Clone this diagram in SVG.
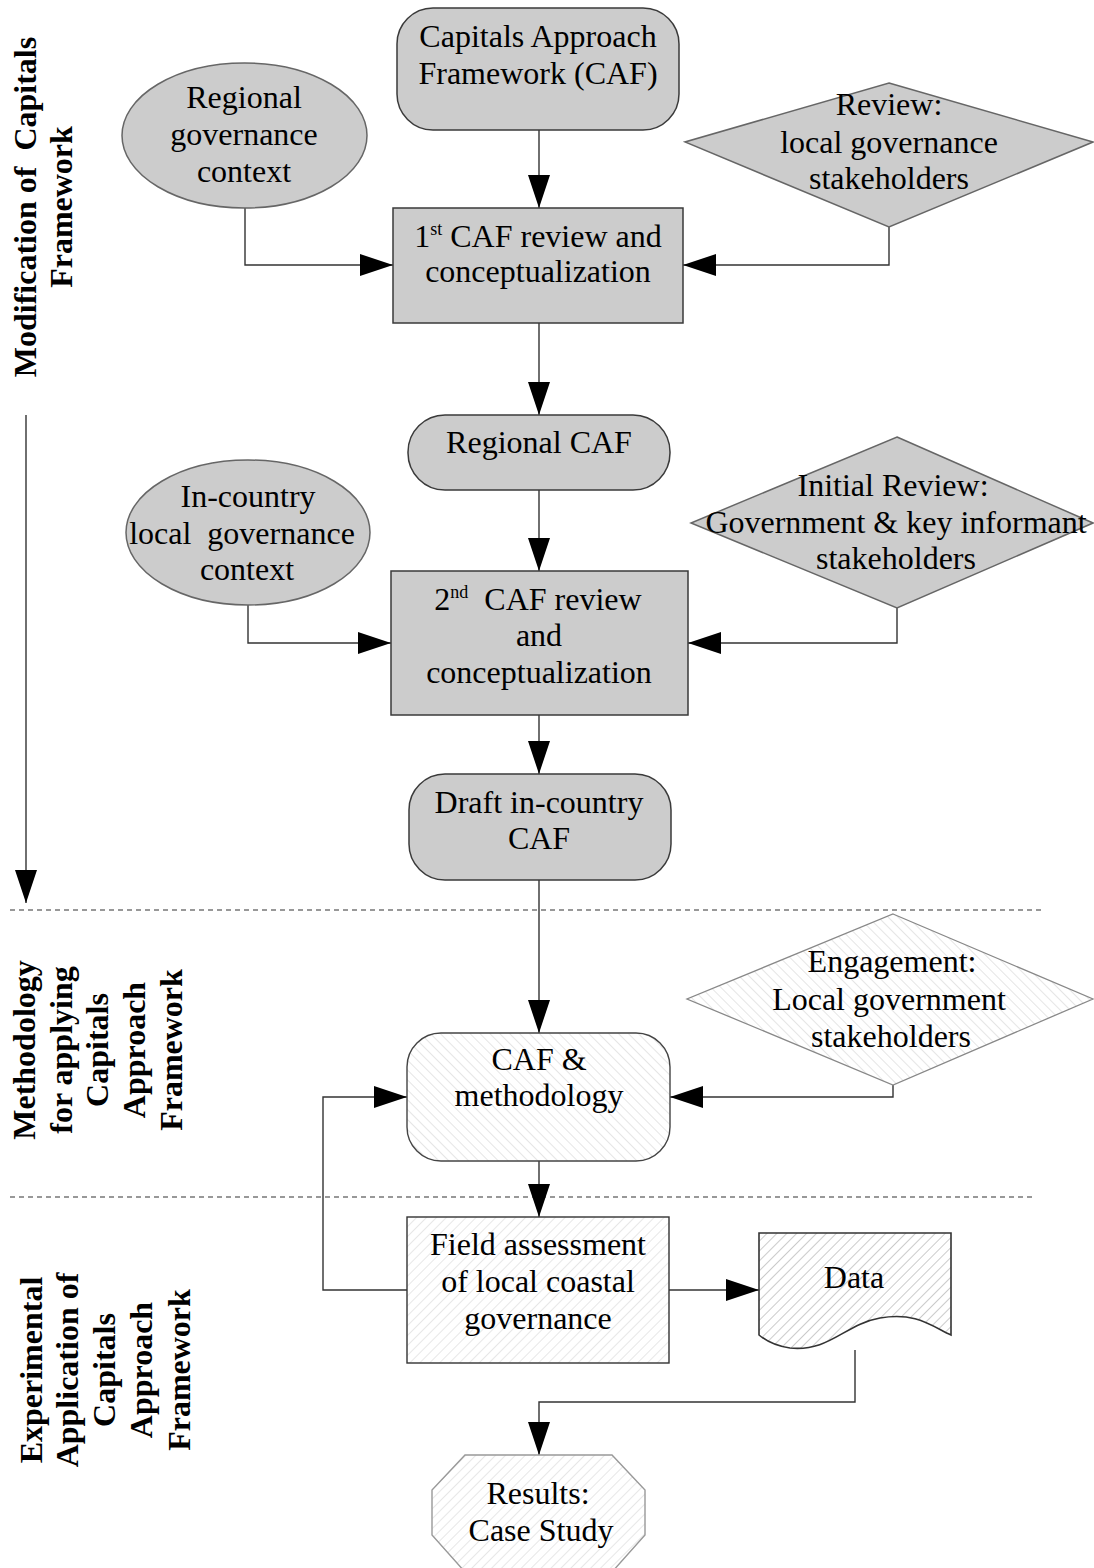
<svg xmlns="http://www.w3.org/2000/svg" width="1094" height="1568" viewBox="0 0 1094 1568">
<style>
.t{font-family:"Liberation Serif","Times New Roman",serif;font-size:32px;fill:#000;text-anchor:middle;white-space:pre}
.lb{font-family:"Liberation Serif","Times New Roman",serif;font-size:32px;font-weight:bold;fill:#000;text-anchor:middle;white-space:pre}
.g{fill:#cccccc;stroke:#3a3a3a;stroke-width:1.5}
.gd{fill:#cccccc;stroke:#666;stroke-width:1.5}
.c{fill:none;stroke:#333;stroke-width:1.4}
.d{fill:none;stroke:#333;stroke-width:1.2;stroke-dasharray:5,4}
</style>
<defs>
<marker id="ah" markerUnits="userSpaceOnUse" markerWidth="34" markerHeight="24" refX="33" refY="11" orient="auto">
<path d="M0,0 L33,11 L0,22 z" fill="#000"/>
</marker>
<pattern id="hb" width="7" height="7" patternUnits="userSpaceOnUse" patternTransform="rotate(-45)">
<rect width="7" height="7" fill="#fff"/><line x1="0" y1="0" x2="0" y2="7" stroke="#d4d4d4" stroke-width="1.2"/>
</pattern>
<pattern id="hf" width="7" height="7" patternUnits="userSpaceOnUse" patternTransform="rotate(45)">
<rect width="7" height="7" fill="#fff"/><line x1="0" y1="0" x2="0" y2="7" stroke="#d8d8d8" stroke-width="1.2"/>
</pattern>
<pattern id="hd" width="7" height="7" patternUnits="userSpaceOnUse" patternTransform="rotate(45)">
<rect width="7" height="7" fill="#fff"/><line x1="0" y1="0" x2="0" y2="7" stroke="#a8a8a8" stroke-width="1.2"/>
</pattern>
</defs>
<rect width="1094" height="1568" fill="#fff"/>

<g id="labels">
<text class="lb" transform="translate(36,207) rotate(-90)"><tspan x="0" y="0">Modification of  Capitals</tspan><tspan x="0" y="36">Framework</tspan></text>
<text class="lb" transform="translate(35,1050) rotate(-90)"><tspan x="0" y="0">Methodology</tspan><tspan x="0" y="37">for applying</tspan><tspan x="0" y="73">Capitals</tspan><tspan x="0" y="110">Approach</tspan><tspan x="0" y="147">Framework</tspan></text>
<text class="lb" transform="translate(42,1370) rotate(-90)"><tspan x="0" y="0">Experimental</tspan><tspan x="0" y="36">Application of</tspan><tspan x="0" y="73">Capitals</tspan><tspan x="0" y="110">Approach</tspan><tspan x="0" y="148">Framework</tspan></text>
</g>

<g id="dividers">
<line class="d" x1="10" y1="910" x2="1044" y2="910"/>
<line class="d" x1="10" y1="1197" x2="1036" y2="1197"/>
</g>

<g id="connectors">
<line class="c" x1="26" y1="415" x2="26" y2="903" marker-end="url(#ah)"/>
<line class="c" x1="539" y1="130" x2="539" y2="208" marker-end="url(#ah)"/>
<polyline class="c" points="245,208 245,265 393,265" marker-end="url(#ah)"/>
<polyline class="c" points="889,227 889,265 683,265" marker-end="url(#ah)"/>
<line class="c" x1="539" y1="323" x2="539" y2="415" marker-end="url(#ah)"/>
<line class="c" x1="539" y1="490" x2="539" y2="571" marker-end="url(#ah)"/>
<polyline class="c" points="248,605 248,643 391,643" marker-end="url(#ah)"/>
<polyline class="c" points="897,608 897,643 688,643" marker-end="url(#ah)"/>
<line class="c" x1="539" y1="715" x2="539" y2="774" marker-end="url(#ah)"/>
<line class="c" x1="539" y1="880" x2="539" y2="1033" marker-end="url(#ah)"/>
<polyline class="c" points="893,1085 893,1097 670,1097" marker-end="url(#ah)"/>
<polyline class="c" points="407,1290 323,1290 323,1097 407,1097" marker-end="url(#ah)"/>
<line class="c" x1="539" y1="1161" x2="539" y2="1217" marker-end="url(#ah)"/>
<line class="c" x1="669" y1="1290" x2="759" y2="1290" marker-end="url(#ah)"/>
<polyline class="c" points="855,1350 855,1402 539,1402 539,1455" marker-end="url(#ah)"/>
</g>

<g id="caf">
<rect class="g" x="397" y="8" width="282" height="122" rx="36"/>
<text class="t"><tspan x="538" y="47">Capitals Approach</tspan><tspan x="538" y="84">Framework (CAF)</tspan></text>
</g>

<g id="regional-context">
<ellipse class="gd" cx="244.5" cy="135.5" rx="122.5" ry="72.5"/>
<text class="t"><tspan x="244" y="108">Regional</tspan><tspan x="244" y="145">governance</tspan><tspan x="244" y="182">context</tspan></text>
</g>

<g id="review">
<polygon class="gd" points="889,83 1093,142 889,227 685,142"/>
<text class="t"><tspan x="889" y="115">Review:</tspan><tspan x="889" y="153">local governance</tspan><tspan x="889" y="189">stakeholders</tspan></text>
</g>

<g id="first-review">
<rect class="g" x="393" y="208" width="290" height="115"/>
<text class="t" x="538" y="247">1<tspan font-size="18" dy="-12">st</tspan><tspan dy="12"> CAF review and</tspan></text>
<text class="t" x="538" y="282">conceptualization</text>
</g>

<g id="regional-caf">
<rect class="g" x="408" y="415" width="262" height="75" rx="37"/>
<text class="t" x="539" y="453">Regional CAF</text>
</g>

<g id="incountry-context">
<ellipse class="gd" cx="248" cy="532.5" rx="122" ry="72.5"/>
<text class="t"><tspan x="248" y="507">In-country</tspan><tspan x="242" y="544">local  governance</tspan><tspan x="247" y="580">context</tspan></text>
</g>

<g id="initial-review">
<polygon class="gd" points="897,437 1093,523 897,608 691,523"/>
<text class="t"><tspan x="893" y="496">Initial Review:</tspan><tspan x="896" y="533">Government &amp; key informant</tspan><tspan x="896" y="569">stakeholders</tspan></text>
</g>

<g id="second-review">
<rect class="g" x="391" y="571" width="297" height="144"/>
<text class="t" x="538" y="610">2<tspan font-size="18" dy="-12">nd</tspan><tspan dy="12">  CAF review</tspan></text>
<text class="t"><tspan x="539" y="646">and</tspan><tspan x="539" y="683">conceptualization</tspan></text>
</g>

<g id="draft">
<rect class="g" x="409" y="774" width="262" height="106" rx="36"/>
<text class="t"><tspan x="539" y="813">Draft in-country</tspan><tspan x="539" y="849">CAF</tspan></text>
</g>

<g id="engagement">
<polygon points="893,914 1093,999 893,1085 687,999" fill="url(#hb)" stroke="#888" stroke-width="1.3"/>
<text class="t"><tspan x="892" y="972">Engagement:</tspan><tspan x="889" y="1010">Local government</tspan><tspan x="891" y="1047">stakeholders</tspan></text>
</g>

<g id="caf-methodology">
<rect x="407" y="1033" width="263" height="128" rx="34" fill="url(#hb)" stroke="#444" stroke-width="1.4"/>
<text class="t"><tspan x="539" y="1070">CAF &amp;</tspan><tspan x="539" y="1106">methodology</tspan></text>
</g>

<g id="field-assessment">
<rect x="407" y="1217" width="262" height="146" fill="url(#hf)" stroke="#333" stroke-width="1.4"/>
<text class="t"><tspan x="538" y="1255">Field assessment</tspan><tspan x="538" y="1292">of local coastal</tspan><tspan x="538" y="1329">governance</tspan></text>
</g>

<g id="data">
<path d="M759,1233 L951,1233 L951,1335 C930,1325 915,1312 880,1318 C845,1324 830,1352 790,1348 C775,1346 765,1340 759,1335 Z" fill="url(#hd)" stroke="#333" stroke-width="1.6"/>
<text class="t" x="854" y="1288">Data</text>
</g>

<g id="results">
<polygon points="465,1455 612,1455 645,1490 645,1535 612,1572 465,1572 432,1535 432,1490" fill="url(#hf)" stroke="#999" stroke-width="1.4"/>
<text class="t"><tspan x="538" y="1504">Results:</tspan><tspan x="541" y="1541">Case Study</tspan></text>
</g>
</svg>
